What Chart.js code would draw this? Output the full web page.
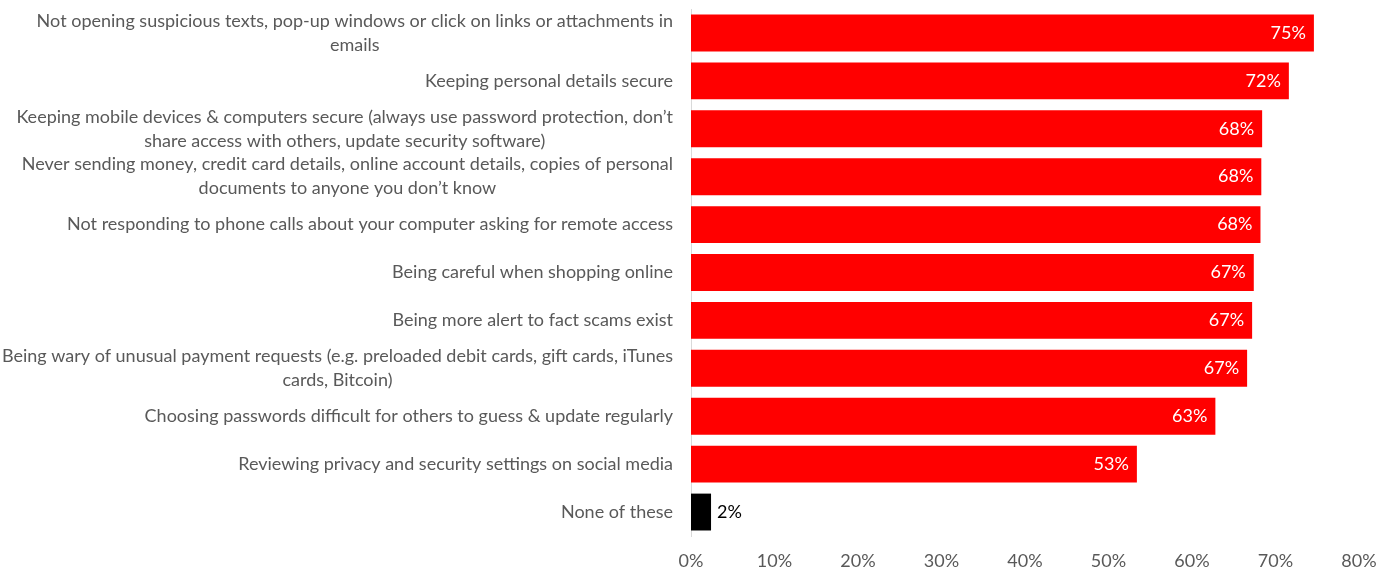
<!DOCTYPE html>
<html>
<head>
<meta charset="utf-8">
<script src="https://cdn.jsdelivr.net/npm/chart.js@4"></script>
<style>
  html, body { margin: 0; padding: 0; background: #fff; }
  #wrap { width: 1391px; height: 569px; }
</style>
</head>
<body>
<div id="wrap"><canvas id="scamChart"></canvas></div>
<script>
const categories = [
  ['Not opening suspicious texts, pop-up windows or click on links or attachments in', 'emails'],
  ['Keeping personal details secure'],
  ['Keeping mobile devices & computers secure (always use password protection, don\u2019t', 'share access with others, update security software)'],
  ['Never sending money, credit card details, online account details, copies of personal', 'documents to anyone you don\u2019t know'],
  ['Not responding to phone calls about your computer asking for remote access'],
  ['Being careful when shopping online'],
  ['Being more alert to fact scams exist'],
  ['Being wary of unusual payment requests (e.g. preloaded debit cards, gift cards, iTunes', 'cards, Bitcoin)'],
  ['Choosing passwords difficult for others to guess & update regularly'],
  ['Reviewing privacy and security settings on social media'],
  ['None of these']
];
const shares = [74.6, 71.6, 68.4, 68.3, 68.2, 67.4, 67.2, 66.6, 62.8, 53.4, 2.4];
const barColors = ['#ff0000', '#ff0000', '#ff0000', '#ff0000', '#ff0000', '#ff0000',
  '#ff0000', '#ff0000', '#ff0000', '#ff0000', '#000000'];
const xTicks = [0, 10, 20, 30, 40, 50, 60, 70, 80];

const FONT = 'Lato, "Noto Sans", sans-serif';
const AXIS_X = 691;

// category text: block right-aligned to the axis, lines centred inside the block
const categoryLabels = {
  id: 'categoryLabels',
  afterDraw(chart) {
    const ctx = chart.ctx;
    const yScale = chart.scales.y;
    ctx.save();
    ctx.font = '18px ' + FONT;
    ctx.fillStyle = '#595959';
    ctx.textAlign = 'center';
    ctx.textBaseline = 'middle';
    const right = chart.chartArea.left - 18;
    const lineH = 24;
    categories.forEach((lines, i) => {
      const y = yScale.getPixelForValue(i);
      const w = Math.max(...lines.map(l => ctx.measureText(l).width));
      const cx = right - w / 2;
      const top = y - (lines.length - 1) * lineH / 2;
      lines.forEach((l, k) => ctx.fillText(l, cx, top + k * lineH));
    });
    ctx.restore();
  }
};

// percentage on each bar
const valueLabels = {
  id: 'valueLabels',
  afterDatasetsDraw(chart) {
    const ctx = chart.ctx;
    const meta = chart.getDatasetMeta(0);
    ctx.save();
    ctx.font = '18px ' + FONT;
    ctx.textBaseline = 'middle';
    meta.data.forEach((bar, i) => {
      const txt = Math.round(shares[i]) + '%';
      if (shares[i] > 10) {
        ctx.fillStyle = '#ffffff';
        ctx.textAlign = 'right';
        ctx.fillText(txt, bar.x - 8, bar.y);
      } else {
        ctx.fillStyle = '#000000';
        ctx.textAlign = 'left';
        ctx.fillText(txt, bar.x + 6, bar.y);
      }
    });
    ctx.restore();
  }
};

new Chart(document.getElementById('scamChart'), {
  type: 'bar',
  data: {
    labels: categories.map(c => c.join(' ')),
    datasets: [{
      data: shares,
      backgroundColor: barColors,
      borderWidth: 0,
      barPercentage: 0.77,
      categoryPercentage: 1
    }]
  },
  options: {
    indexAxis: 'y',
    responsive: true,
    maintainAspectRatio: false,
    animation: false,
    layout: { padding: { top: 9, right: 32, left: 0, bottom: 0 } },
    plugins: { legend: { display: false }, tooltip: { enabled: false } },
    scales: {
      y: {
        ticks: { display: false },
        grid: { display: false },
        border: { display: true, color: '#d9d9d9', width: 1 },
        afterFit(scale) { scale.width = AXIS_X; }
      },
      x: {
        min: 0,
        max: 80,
        afterBuildTicks(scale) { scale.ticks = xTicks.map(v => ({ value: v })); },
        ticks: {
          color: '#595959',
          font: { family: FONT, size: 18 },
          padding: 6,
          callback: v => v + '%'
        },
        grid: { display: false },
        border: { display: false },
        afterFit(scale) { scale.height = 33; }
      }
    }
  },
  plugins: [categoryLabels, valueLabels]
});
</script>
</body>
</html>
